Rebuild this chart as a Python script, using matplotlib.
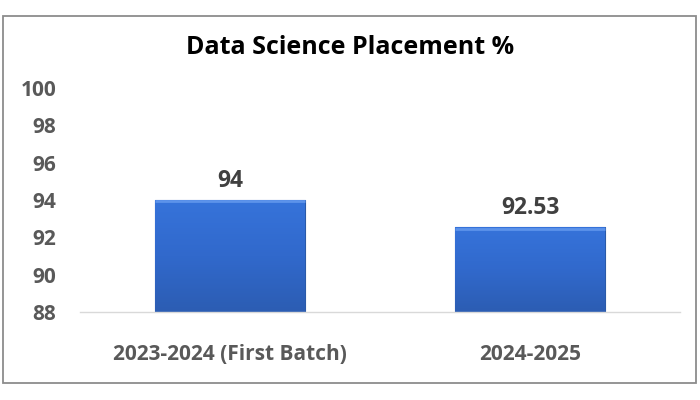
import numpy as np
import matplotlib.pyplot as plt
from matplotlib.patches import Rectangle

# ====== Data ======
categories = ["2023-2024 (First Batch)", "2024-2025"]
placement = [94, 92.53]
value_labels = ["94", "92.53"]
yticks = [88, 90, 92, 94, 96, 98, 100]
# ==================

plt.rcParams['font.family'] = ['Open Sans', 'DejaVu Sans']

fig = plt.figure(figsize=(7, 4), dpi=100)
ax = fig.add_axes([80 / 700, 1 - 312 / 400, 600 / 700, 224 / 400])

# outer frame of the chart area
fig.patches.append(Rectangle((3 / 700, 1 - 383 / 400), 693 / 700, 367 / 400,
                             transform=fig.transFigure, fill=False,
                             edgecolor="#8c8c8c", linewidth=1.3))

x = np.arange(len(categories))
bars = ax.bar(x, placement, width=0.5, bottom=0, color="#3370d4",
              edgecolor="#2a5aa8", linewidth=0.8, zorder=2)

# vertical gradient inside each bar
grad = np.linspace(0, 1, 100).reshape(-1, 1)
cmap = plt.matplotlib.colors.LinearSegmentedColormap.from_list(
    "bar", ["#2c5db3", "#3169cc", "#3673da"])
for b in bars:
    x0, w = b.get_x(), b.get_width()
    im = ax.imshow(grad, extent=[x0, x0 + w, 88, b.get_height()],
                   origin="lower", aspect="auto", cmap=cmap, zorder=2.5)
    im.set_clip_path(b)
    # lighter top bevel
    ax.plot([x0, x0 + w], [b.get_height() - 0.06] * 2, color="#5d93ea",
            linewidth=2, zorder=3, solid_capstyle="butt")

for xi, v, lab in zip(x, placement, value_labels):
    ax.text(xi, v + 0.4, lab, ha="center", va="bottom", fontsize=16.5,
            fontweight="bold", color="#404040")

ax.set_xlim(-0.5, len(categories) - 0.5)
ax.set_ylim(88, 100)
ax.set_yticks(yticks)
ax.set_yticklabels([str(t) for t in yticks])
ax.set_xticks(x)
ax.set_xticklabels(categories)

for s in ["top", "right", "left"]:
    ax.spines[s].set_visible(False)
ax.spines["bottom"].set_color("#d9d9d9")
ax.spines["bottom"].set_linewidth(1)
ax.tick_params(axis="y", length=0, labelsize=15, labelcolor="#595959", pad=17)
ax.tick_params(axis="x", length=0, labelsize=15, labelcolor="#595959", pad=23)
for t in ax.get_xticklabels() + ax.get_yticklabels():
    t.set_fontweight("bold")

fig.text(350 / 700, 1 - 47 / 400, "Data Science Placement %", ha="center",
         va="center", fontsize=18, fontweight="bold", color="#000000")

fig.savefig("out.png", dpi=100)
